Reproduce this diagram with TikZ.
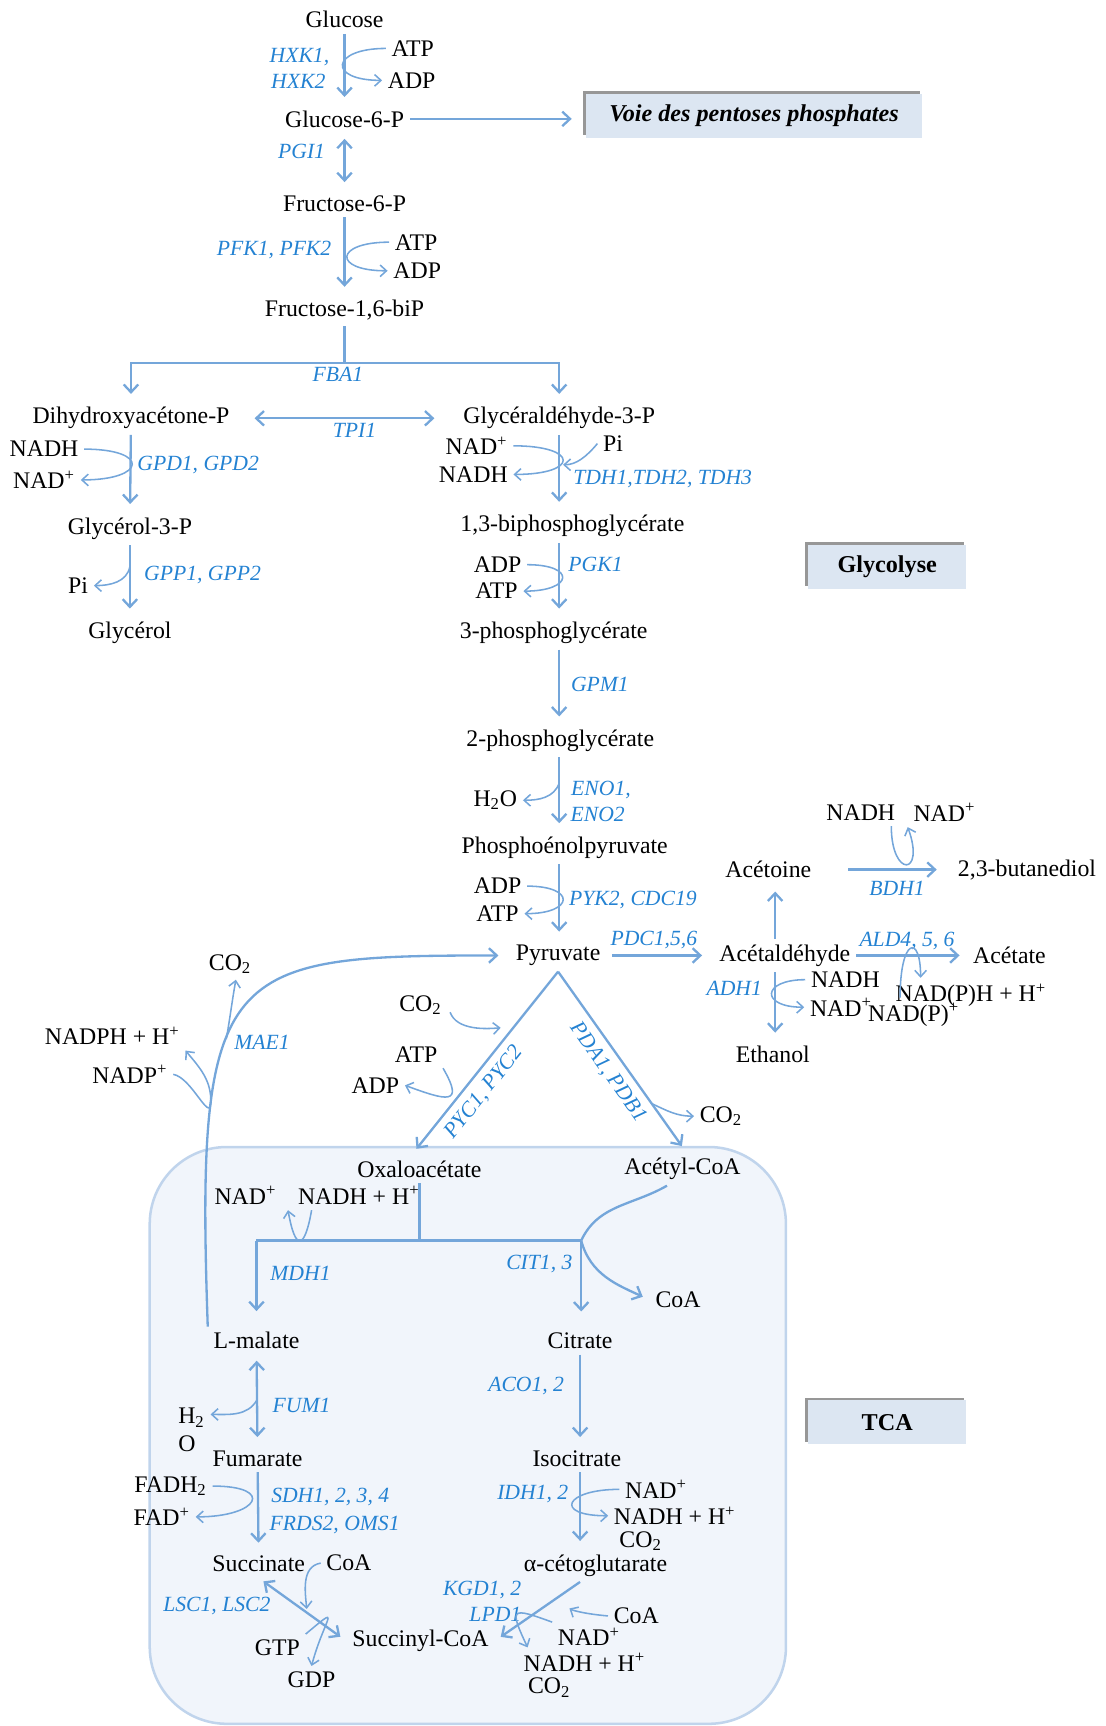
\documentclass[tikz,border=0pt]{standalone}
\usepackage{fontspec}
\setmainfont{Liberation Serif}
\usetikzlibrary{arrows.meta,shadows}

\definecolor{lineblue}{RGB}{116,166,218}
\definecolor{enzblue}{RGB}{36,130,210}
\definecolor{phasefill}{RGB}{220,230,242}
\definecolor{tcafill}{RGB}{241,245,251}
\definecolor{tcaedge}{RGB}{192,212,236}

\newcommand{\cplus}{\textsuperscript{+}}
\newcommand{\ctwo}{\textsubscript{2}}

\tikzset{
  met/.style={font=\fontsize{12.3}{14.5}\selectfont, inner sep=1.5pt, outer sep=1.5pt},
  enz/.style={font=\fontsize{11.2}{13}\selectfont\itshape, text=enzblue, inner sep=1pt},
  bar/.style={draw=lineblue, line width=1.2pt},
  flow/.style={bar, -{Straight Barb[length=4pt,width=7.5pt]}, shorten >=4pt},
  flowb/.style={flow, {Straight Barb[length=4pt,width=7.5pt]}-{Straight Barb[length=4pt,width=7.5pt]}, shorten <=3pt},
  side/.style={draw=lineblue, line width=0.8pt, -{Straight Barb[length=3.3pt,width=6pt]}},
  phase/.style={fill=phasefill, font=\fontsize{12.5}{14}\selectfont\bfseries, minimum height=0.8cm,
    drop shadow={shadow xshift=-1.3pt, shadow yshift=1.3pt, fill=black!45, opacity=0.9}}
}

\begin{document}
\begin{tikzpicture}[x=0.02cm,y=-0.02cm]
\useasboundingbox (0,0) rectangle (1004,1568);

% TCA compartment
\draw[tcaedge, fill=tcafill, line width=1.3pt, rounded corners=1.4cm] (136,1042) rectangle (714,1566);

% metabolites
\foreach \id/\x/\y/\txt in {glc/313/18/Glucose, g6p/313/108/Glucose-6-P, f6p/313/185/Fructose-6-P,
  fbp/313/282/{Fructose-1,6-biP}, dhap/119/380/Dihydroxyacétone-P, gap/508/380/Glycéraldéhyde-3-P,
  g3p/118/480/Glycérol-3-P, glyc/118/575/Glycérol, bpg/520/478/{1,3-biphosphoglycérate},
  pga3/503/575/3-phosphoglycérate, pga2/509/673/2-phosphoglycérate, pep/513/770/Phosphoénolpyruvate,
  pyr/507/868/Pyruvate, acal/713/868/Acétaldéhyde, acn/698/790/Acétoine, btd/933/790/{2,3-butanediol},
  ace/917/868/Acétate, etoh/702/958/Ethanol, oaa/381/1062/Oxaloacétate, acoa/620/1062/Acétyl-CoA,
  mal/233/1218/L-malate, cit/527/1218/Citrate, fum/234/1325/Fumarate, icit/524/1325/Isocitrate,
  succ/235/1421/Succinate, akg/541/1422/α-cétoglutarate, scoa/382/1491/Succinyl-CoA}
  \node[met] (\id) at (\x,\y) {\txt};

% cofactors
\foreach \id/\x/\y/\txt in {atp1/375/44/ATP, adp1/374/73/ADP, atp2/378/220/ATP, adp2/379/246/ADP,
  nadh1/40/408/NADH, nad1/40/436/NAD\cplus, pi1/71/532/Pi,
  nad2/433/405/NAD\cplus, nadh2/430/431/NADH, pi2/557/403/Pi,
  adp3/452/513/ADP, atp3/451/537/ATP, h2o1/450/727/H\ctwo O, adp4/452/805/ADP, atp4/452/830/ATP,
  nadh3/782/738/NADH, nad3/858/738/NAD\cplus, nadh4/768/890/NADH, nad4/764/915/NAD\cplus,
  nadph5/882/904/NAD(P)H + H\cplus, nadp5/830/922/NAD(P)\cplus,
  co2a/209/876/CO\ctwo, nadph6/102/941/NADPH + H\cplus, nadp6/118/976/NADP\cplus,
  co2b/382/913/CO\ctwo, atp7/378/958/ATP, adp7/341/986/ADP, co2c/655/1014/CO\ctwo,
  nad8/223/1086/NAD\cplus, nadh8/326/1086/NADH + H\cplus, coa9/616/1181/CoA,
  fadh11/155/1350/FADH\ctwo, fad11/147/1378/FAD\cplus,
  nad12/596/1353/NAD\cplus, nadh12/613/1377/NADH + H\cplus, co2d/582/1400/CO\ctwo,
  coa13/317/1420/CoA, gtp13/252/1497/GTP, gdp13/283/1526/GDP,
  coa14/578/1468/CoA, nad14/535/1487/NAD\cplus, nadh14/531/1510/NADH + H\cplus, co2e/499/1533/CO\ctwo}
  \node[met] (\id) at (\x,\y) {\txt};
\node[met, align=left] (h2oF) at (174,1299) {H\ctwo\\O};

% enzymes
\foreach \id/\x/\y/\txt in {hxk/272/52/{HXK1,}, hxkb/271/74/HXK2, pgi/274/138/PGI1, pfk/249/227/{PFK1, PFK2},
  fba/307/340/FBA1, tpi/322/391/TPI1, gpd/180/422/{GPD1, GPD2}, gpp/184/522/{GPP1, GPP2},
  tdh/602/435/{TDH1,TDH2, TDH3}, pgk/541/513/PGK1, gpm/545/622/GPM1, eno/546/718/{ENO1,},
  enob/543/740/ENO2, pyk/575/818/{PYK2, CDC19}, pdc/594/854/{PDC1,5,6}, ald/824/855/{ALD4, 5, 6},
  bdh/815/807/BDH1, adh/667/898/ADH1, mae/238/947/MAE1, mdh/273/1157/MDH1, cs/490/1148/{CIT1, 3},
  aco/478/1259/{ACO1, 2}, fumz/274/1277/FUM1, sdh/300/1360/{SDH1, 2, 3, 4}, sdhb/304/1385/{FRDS2, OMS1},
  idh/484/1357/{IDH1, 2}, lsc/197/1459/{LSC1, LSC2}, kgd/438/1444/{KGD1, 2}, lpd/450/1467/LPD1}
  \node[enz] (\id) at (\x,\y) {\txt};

% phase labels
\node[phase, minimum width=6.12cm, font=\fontsize{12.5}{14}\selectfont\bfseries\itshape] (ppp) at (685,105) {Voie des pentoses phosphates};
\node[phase, minimum width=2.88cm] (glyco) at (806,515) {Glycolyse};
\node[phase, minimum width=2.88cm] (tcab) at (806,1292) {TCA};

% glycolyse
\draw[flow] (glc) -- (g6p);
\draw[side] (atp1.west) to[out=180,in=180,distance=1cm] (adp1.west);
\draw[flow, shorten >=7pt] (g6p) -- (g6p -| ppp.west);
\draw[flowb] (g6p) -- (f6p);
\draw[flow] (f6p) -- (fbp);
\draw[side] (atp2.west) to[out=180,in=180,distance=1cm] (adp2.west);
\coordinate (fbaJ) at (313,330);
\draw[bar] (fbp) -- (fbaJ);
\draw[flow] (fbaJ) -| (dhap);
\draw[flow] (fbaJ) -| (gap);
\draw[flowb, shorten <=10pt, shorten >=12pt] (dhap) -- (gap);

\draw[flow] (dhap) -- (g3p);
\draw[side] (nadh1.east) to[out=0,in=0,distance=1.2cm] (nad1.east);
\draw[flow] (g3p) -- (glyc) coordinate[pos=0.3] (gppM);
\draw[side] (gppM) to[out=-100,in=0] (pi1.east);

\draw[flow] (gap) -- (gap |- bpg.north) coordinate[pos=0.4] (tdhM);
\draw[side] (nad2.east) to[out=0,in=0,distance=1.2cm] (nadh2.east);
\draw[side, shorten >=2pt] (pi2.west) to[out=-130,in=0] (tdhM);
\draw[flow] (bpg.south -| gap) -- (gap |- pga3.north);
\draw[side] (adp3.east) to[out=0,in=0,distance=0.9cm] (atp3.east);
\draw[flow] (pga3.south -| gap) -- (gap |- pga2.north);
\draw[flow] (pga2.south -| gap) -- (gap |- pep.north) coordinate[pos=0.35] (enoM);
\draw[side] (enoM) to[out=-110,in=0] (h2o1.east);
\draw[flow] (pep.south -| gap) -- (gap |- pyr.north);
\draw[side] (adp4.east) to[out=0,in=0,distance=0.9cm] (atp4.east);

% fermentation
\draw[flow, shorten <=3pt, shorten >=6pt] (pyr) -- (acal);
\draw[flow] (acal) -- (ace);
\draw[side] ([xshift=-7pt]nadp5.north) to[out=90,in=90,out distance=1.1cm,in distance=0.8cm] ([xshift=-26pt]nadph5.north);
\draw[flow] ([xshift=-5pt]acal.north) -- ([xshift=-5pt]acal.north |- acn.south);
\draw[flow, shorten <=16pt, shorten >=8pt] (acn) -- (btd);
\draw[side] ([xshift=-5pt]nadh3.south east) to[out=-90,in=-70,distance=0.95cm] (nad3.south west);
\draw[flow] ([xshift=-5pt]acal.south) -- ([xshift=-5pt]acal.south |- etoh.north);
\draw[side] (nadh4.west) to[out=180,in=180,distance=0.8cm] (nad4.west);

% malic enzyme
\draw[flow, shorten >=6pt] (mal.north west) to[out=92,in=180,out distance=6.6cm,in distance=5.2cm] coordinate[pos=0.4] (maeA) coordinate[pos=0.27] (maeB) (pyr.west);
\draw[side] (maeA) to[out=80,in=-100] ([xshift=3pt]co2a.south);
\draw[side] (nadp6.east) to[out=-10,in=-95] (maeB) to[out=88,in=-50] (nadph6.south east);

% pyruvate carboxylase / dehydrogenase
\draw[flow] (pyr.south) -- ([xshift=-4pt]oaa.north) node[enz, pos=0.6, sloped, below=3pt] {PYC1, PYC2} coordinate[pos=0.3] (pycA);
\draw[flow] (pyr.south) -- ([xshift=2pt]acoa.north) node[enz, pos=0.5, sloped, below=3pt] {PDA1, PDB1} coordinate[pos=0.73] (pdaA);
\draw[side, shorten <=4pt, shorten >=7pt] (co2b.east) to[out=-70,in=185] (pycA);
\draw[side] (atp7.south east) to[out=-60,in=-20,distance=0.8cm] (adp7.east);
\draw[side] (pdaA) to[out=-25,in=180] (co2c.west);

% TCA
\coordinate (mdhJ) at (233,1127);
\coordinate (csJ) at (528,1127);
\draw[bar] (oaa.south) -- (oaa.south |- mdhJ);
\draw[bar] (mdhJ) -- (csJ);
\draw[flow, shorten >=8pt] (mdhJ) -- (mdhJ |- mal.north);
\draw[flow, shorten >=8pt] (csJ) -- (csJ |- cit.north);
\draw[bar] ([xshift=-8pt]acoa.south) to[out=-150,in=65] (csJ);
\draw[flow] (csJ) to[out=-75,in=155] (coa9.west);
\draw[side] ([xshift=10pt]nadh8.south west) to[out=-100,in=-80,distance=0.75cm] ([xshift=3pt]nad8.south east);

\draw[flowb] (mal) -- (fum) coordinate[pos=0.5] (fumM);
\draw[side] (fumM) to[out=-120,in=0] ([yshift=8pt]h2oF.east);
\draw[flow] (fum) -- (succ);
\draw[side] (fadh11.east) to[out=0,in=0,distance=1.15cm] (fad11.east);
\draw[flowb] (succ.south) -- (scoa.west) coordinate[pos=0.55] (lscA);
\draw[side, shorten >=2pt] (coa13.west) to[out=190,in=95] (lscA);
\draw[side] (gtp13.north east) to[out=40,in=75,distance=0.9cm] (gdp13.north);

\draw[flow] (cit) -- (cit |- icit.north);
\draw[flow] (cit |- icit.south) -- (cit |- akg.north);
\draw[side] (nad12.west) to[out=180,in=180,distance=1cm] (nadh12.west);
\draw[flow] ([xshift=-8pt]akg.south) -- (scoa.east) coordinate[pos=0.3] (kgdA);
\draw[side, shorten >=9pt] (coa14.west) to[out=175,in=-30] (kgdA);
\draw[side] (nad14.north west) to[out=160,in=115,distance=0.8cm] ([xshift=5pt]nadh14.north west);

\end{tikzpicture}
\end{document}
